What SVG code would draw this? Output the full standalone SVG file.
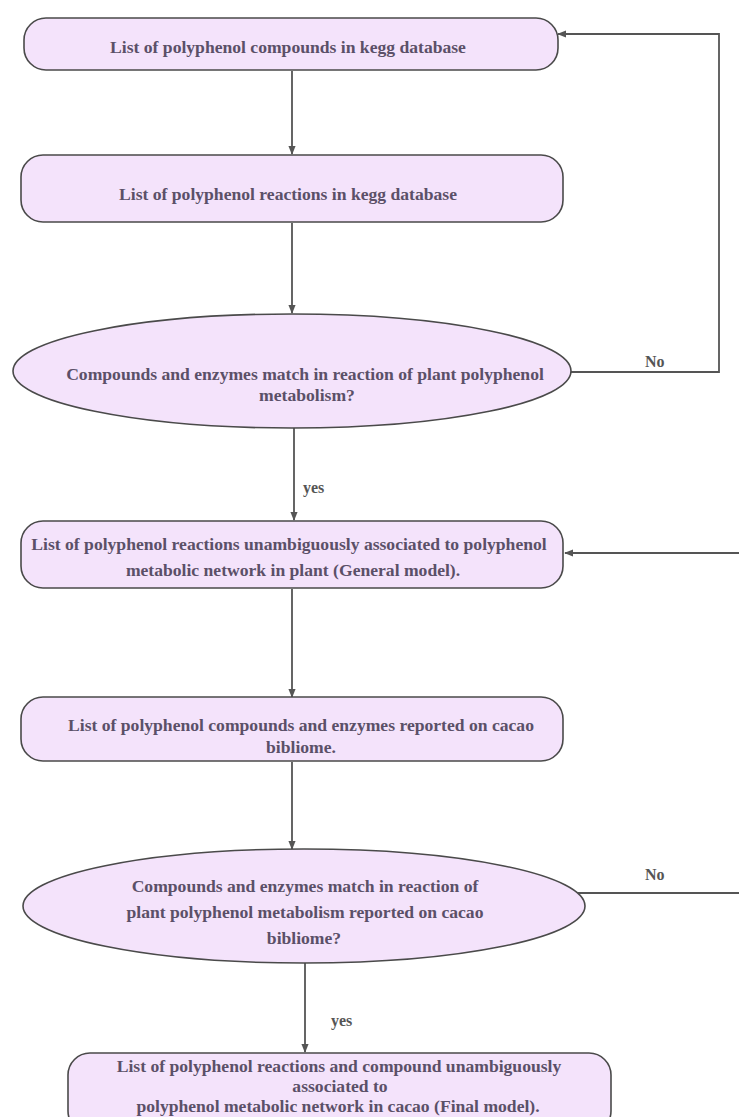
<svg xmlns="http://www.w3.org/2000/svg" width="739" height="1117" viewBox="0 0 739 1117">
<style>
.n{fill:#f4e3fb;stroke:#4a4a4a;stroke-width:1.6}
.t{font-family:'Liberation Serif','Times New Roman',serif;font-weight:bold;font-size:17.6px;fill:#5b5068;text-anchor:middle}
.l{font-family:'Liberation Serif','Times New Roman',serif;font-weight:bold;font-size:16px;fill:#555}
.c{fill:none;stroke:#555;stroke-width:1.8}
</style>
<defs>
<marker id="a" viewBox="0 0 10 10" refX="9" refY="5" markerWidth="5" markerHeight="5" orient="auto-start-reverse" markerUnits="strokeWidth">
<path d="M0,1 L10,5 L0,9 z" fill="#555"/>
</marker>
</defs>
<rect width="739" height="1117" fill="#ffffff"/>
<g id="connectors">
<path class="c" d="M292,71 V154" marker-end="url(#a)"/>
<path class="c" d="M292,223 V313" marker-end="url(#a)"/>
<path class="c" d="M571,372 H719 V34 H558" marker-end="url(#a)"/>
<path class="c" d="M294,428 V520" marker-end="url(#a)"/>
<path class="c" d="M292,589 V697" marker-end="url(#a)"/>
<path class="c" d="M292,762 V849" marker-end="url(#a)"/>
<path class="c" d="M578,893 H742 V553 H565" marker-end="url(#a)"/>
<path class="c" d="M305,963 V1052" marker-end="url(#a)"/>
<text class="l" x="645" y="367">No</text>
<text class="l" x="303" y="493">yes</text>
<text class="l" x="645" y="880">No</text>
<text class="l" x="331" y="1026">yes</text>
</g>
<g id="n1">
<rect class="n" x="24" y="18" width="534" height="52" rx="22"/>
<text class="t" x="288" y="53">List of polyphenol compounds in kegg database</text>
</g>
<g id="n2">
<rect class="n" x="21" y="155" width="542" height="67" rx="22"/>
<text class="t" x="288" y="200">List of polyphenol reactions in kegg database</text>
</g>
<g id="n3">
<ellipse class="n" cx="292" cy="371" rx="279" ry="57"/>
<text class="t" x="305" y="380">Compounds and enzymes match in reaction of plant polyphenol</text>
<text class="t" x="307" y="401">metabolism?</text>
</g>
<g id="n4">
<rect class="n" x="21" y="521" width="542" height="67" rx="22"/>
<text class="t" x="289" y="550">List of polyphenol reactions unambiguously associated to polyphenol</text>
<text class="t" x="293" y="576">metabolic network in plant (General model).</text>
</g>
<g id="n5">
<rect class="n" x="21" y="697" width="542" height="64" rx="22"/>
<text class="t" x="301" y="731">List of polyphenol compounds and enzymes reported on cacao</text>
<text class="t" x="301" y="753">bibliome.</text>
</g>
<g id="n6">
<ellipse class="n" cx="304" cy="906" rx="281" ry="57"/>
<text class="t" x="305" y="892">Compounds and enzymes match in reaction of</text>
<text class="t" x="305" y="918">plant polyphenol metabolism reported on cacao</text>
<text class="t" x="304" y="944">bibliome?</text>
</g>
<g id="n7">
<rect class="n" x="68" y="1053" width="543" height="80" rx="22"/>
<text class="t" x="339" y="1072">List of polyphenol reactions and compound unambiguously</text>
<text class="t" x="340" y="1092">associated to</text>
<text class="t" x="338" y="1112">polyphenol metabolic network in cacao (Final model).</text>
</g>
</svg>
